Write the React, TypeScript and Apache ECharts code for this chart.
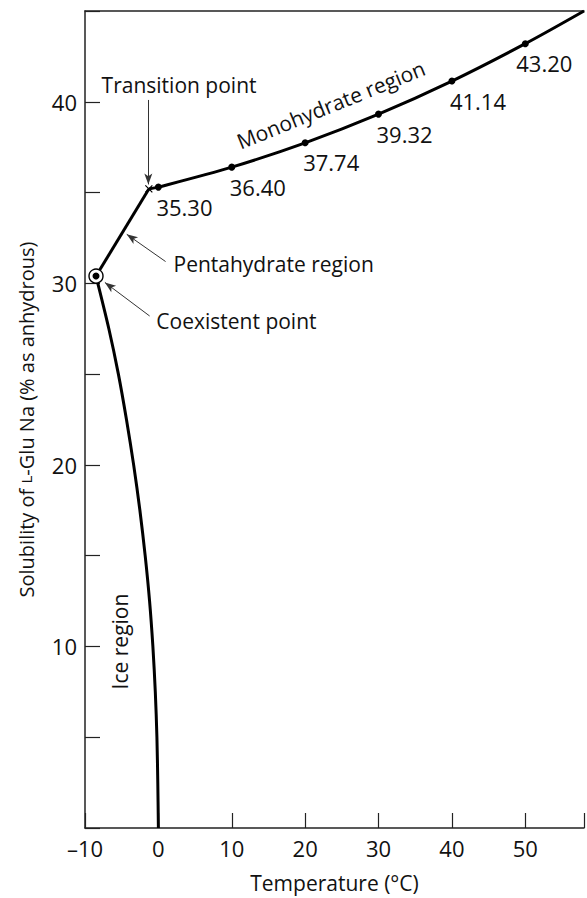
import React, { useEffect, useRef } from "react";
import * as echarts from "echarts";

// ---- data ----
const xTickLabels = [-10, 0, 10, 20, 30, 40, 50];
const yTickLabels = [10, 20, 30, 40];

// Ice region curve (temperature °C, solubility %)
const iceRegion: number[][] = [
  [-8.5, 30.4],
  [-6.75, 27.5],
  [-5.45, 25],
  [-4.35, 22.5],
  [-3.37, 20],
  [-2.52, 17.5],
  [-1.8, 15],
  [-1.2, 12.5],
  [-0.75, 10],
  [-0.42, 7.5],
  [-0.2, 5],
  [-0.08, 2.5],
  [0, 0],
];

const coexistentPoint = [-8.5, 30.4];
const transitionPoint = [-1.3, 35.2];

// Monohydrate region measured points
const monoTemps = [0, 10, 20, 30, 40, 50];
const monoValues = [35.3, 36.4, 37.74, 39.32, 41.14, 43.2];
// where the monohydrate curve leaves the plot (top-right corner)
const monoCurveEnd = [58, 45.0];

// annotation texts anchored in data coordinates
const annotationTexts = ["Transition point", "Pentahydrate region", "Coexistent point", "Monohydrate region", "Ice region"];
const annotationAnchors: number[][] = [
  [-7.74, 40.9],
  [2.06, 31.04],
  [-0.28, 27.9],
  [23.5, 39.84],
  [-5.2, 10.27],
];
const annotationAlign = ["left", "left", "left", "center", "center"];
const annotationRotate = [0, 0, 0, 22, 90];

// arrows: [from, to] in data coordinates
const arrows: number[][][] = [
  [[-1.37, 40.1], [-1.37, 35.45]],
  [[0.98, 31.2], [-4.31, 32.7]],
  [[-1.19, 28.2], [-7.29, 30.05]],
];

const FONT = '"Open Sans", "DejaVu Sans", sans-serif';
const INK = "#111";

export default function App() {
  const ref = useRef<HTMLDivElement>(null);

  useEffect(() => {
    const chart = echarts.init(ref.current!, null, { renderer: "svg" });
    const monoPoints = monoTemps.map((t, i) => [t, monoValues[i]]);
    const monoCurve = [transitionPoint, ...monoPoints, monoCurveEnd];
    const lineStyle = { color: "#000", width: 3 };
    const axisColor = "#222";

    chart.setOption({
      animation: false,
      backgroundColor: "#fff",
      grid: { left: 85, top: 11, right: 0, bottom: 68 },
      xAxis: [
        {
          type: "value",
          min: -10,
          max: 58,
          interval: 10,
          axisLine: { show: true, onZero: false, lineStyle: { color: axisColor, width: 1.5 } },
          axisTick: { show: true, inside: true, length: 15, lineStyle: { color: axisColor, width: 1.2 } },
          axisLabel: {
            formatter: (v: number) => (xTickLabels.includes(v) ? (v < 0 ? "–" + Math.abs(v) : String(v)) : ""),
            margin: 9,
            fontSize: 22,
            color: INK,
            fontFamily: FONT,
          },
          splitLine: { show: false },
          name: "Temperature (°C)",
          nameLocation: "middle",
          nameGap: 44,
          nameTextStyle: { fontSize: 21, color: INK, fontFamily: FONT },
        },
        {
          type: "value",
          position: "top",
          min: -10,
          max: 58,
          axisLine: { show: true, onZero: false, lineStyle: { color: axisColor, width: 1.5 } },
          axisTick: { show: false },
          axisLabel: { show: false },
          splitLine: { show: false },
        },
      ],
      yAxis: {
        type: "value",
        min: 0,
        max: 45,
        interval: 5,
        axisLine: { show: true, onZero: false, lineStyle: { color: axisColor, width: 1.5 } },
        axisTick: { show: true, inside: true, length: 15, lineStyle: { color: axisColor, width: 1.2 } },
        axisLabel: {
          formatter: (v: number) => (yTickLabels.includes(v) ? String(v) : ""),
          margin: 8,
          fontSize: 22,
          color: INK,
          fontFamily: FONT,
        },
        splitLine: { show: false },
        name: "Solubility of {sc|L}-Glu Na (% as anhydrous)",
        nameLocation: "middle",
        nameGap: 49,
        nameTextStyle: {
          fontSize: 20,
          color: INK,
          fontFamily: FONT,
          rich: { sc: { fontSize: 15, color: INK, fontFamily: FONT } },
        },
      },
      series: [
        {
          name: "Ice region",
          type: "line",
          smooth: 0.3,
          showSymbol: false,
          symbol: "none",
          data: iceRegion,
          lineStyle,
          z: 3,
        },
        {
          name: "Pentahydrate region",
          type: "line",
          showSymbol: false,
          symbol: "none",
          data: [coexistentPoint, transitionPoint],
          lineStyle,
          z: 3,
          markLine: {
            silent: true,
            symbol: ["none", "arrow"],
            symbolSize: [6, 11],
            lineStyle: { color: "#333", width: 1, type: "solid" },
            label: { show: false },
            emphasis: { disabled: true },
            data: arrows.map(([a, b]) => [{ coord: a }, { coord: b }]),
          },
        },
        {
          name: "Monohydrate region",
          type: "line",
          smooth: 0.3,
          showSymbol: false,
          symbol: "none",
          data: monoCurve,
          lineStyle,
          z: 3,
        },
        {
          name: "Measured",
          type: "scatter",
          symbol: "circle",
          symbolSize: 7,
          itemStyle: { color: "#000", opacity: 1 },
          z: 5,
          data: monoPoints.map((p, i) => ({
            value: p,
            label: i === monoPoints.length - 1 ? { offset: [-9, 0] } : undefined,
          })),
          label: {
            show: true,
            position: "bottom",
            align: "left",
            distance: 5,
            offset: [-2, 0],
            formatter: (p: any) => p.value[1].toFixed(2),
            fontSize: 22,
            color: INK,
            opacity: 1,
            textBorderWidth: 0,
            fontFamily: FONT,
          },
        },
        {
          name: "Coexistent ring",
          type: "scatter",
          symbol: "circle",
          symbolSize: 14,
          itemStyle: { color: "#fff", borderColor: "#000", borderWidth: 1.4, opacity: 1 },
          z: 6,
          data: [coexistentPoint],
        },
        {
          name: "Coexistent dot",
          type: "scatter",
          symbol: "circle",
          symbolSize: 7,
          itemStyle: { color: "#000", opacity: 1 },
          z: 7,
          data: [coexistentPoint],
        },
        {
          name: "Transition",
          type: "scatter",
          symbol: "path://M0,0L10,10M10,0L0,10",
          symbolSize: 7,
          itemStyle: { color: "none", borderColor: "#000", borderWidth: 1.2, opacity: 1 },
          z: 6,
          data: [transitionPoint],
        },
      ],
    });

    const graphics = annotationTexts.map((text, i) => {
      const [px, py] = chart.convertToPixel({ xAxisIndex: 0, yAxisIndex: 0 }, annotationAnchors[i]) as number[];
      return {
        type: "text",
        x: px,
        y: py,
        rotation: (annotationRotate[i] * Math.PI) / 180,
        style: {
          text,
          fill: INK,
          font: `21px ${FONT}`,
          align: annotationAlign[i],
          verticalAlign: "middle",
        },
        z: 10,
      };
    });
    chart.setOption({ graphic: graphics });

    return () => chart.dispose();
  }, []);

  return (
    <div
      ref={ref}
      style={{ position: "fixed", left: 0, top: 0, width: 587, height: 898, background: "#fff" }}
    />
  );
}
